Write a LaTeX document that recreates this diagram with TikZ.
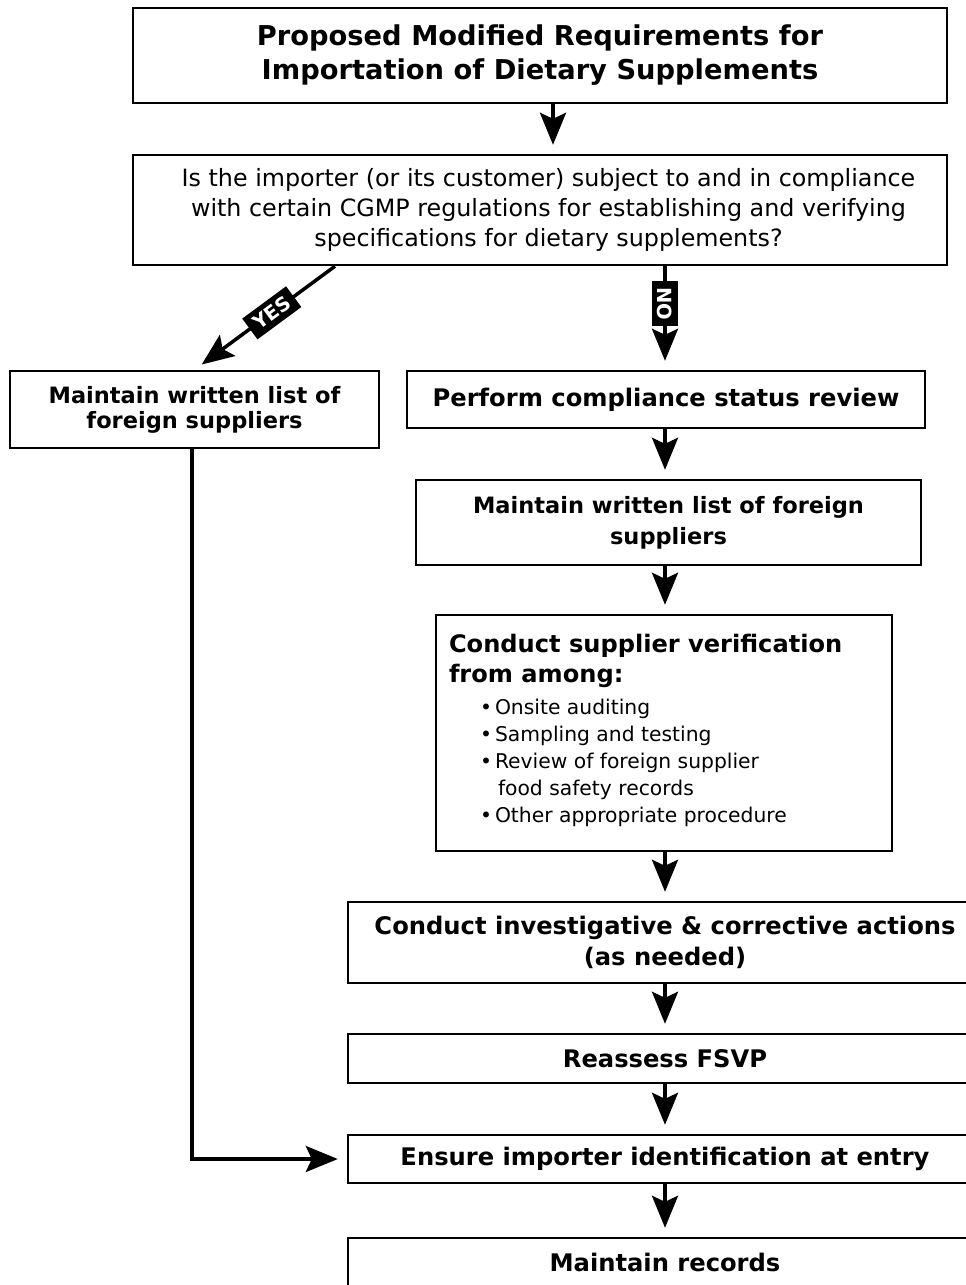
\documentclass[tikz,border=0pt]{standalone}
\usepackage{fontspec}
\setmainfont{DejaVu Sans}
\usetikzlibrary{arrows.meta}
\begin{document}
\begin{tikzpicture}[x=1pt,y=-1pt,
  box/.style={draw=black, line width=2.4pt, inner sep=0pt, align=center},
  bt/.style={font=\fontsize{24.2}{31}\selectfont\bfseries},
  arr/.style={line width=3.5pt, draw=black, -{Stealth[length=32pt,width=26pt,inset=6pt]}, shorten >=9pt},
  lab/.style={fill=black, text=white, font=\fontsize{19.5}{19.5}\selectfont\bfseries, inner xsep=6.5pt, inner ysep=5.5pt}]
\useasboundingbox[fill=white] (0,0) rectangle (966,1285);
\node[box, minimum width=814pt, minimum height=95pt, font=\fontsize{27.3}{34}\selectfont\bfseries] (title) at (540,55.5) {Proposed Modified Requirements for\\Importation of Dietary Supplements};
\node[box, minimum width=814pt, minimum height=110pt, font=\fontsize{23.8}{30}\selectfont] (q) at (540,210) {\begin{tabular}{@{\hspace{17pt}}c@{}}Is the importer (or its customer) subject to and in compliance\\with certain CGMP regulations for establishing and verifying\\specifications for dietary supplements?\end{tabular}};
\node[box, minimum width=369pt, minimum height=77pt, font=\fontsize{22.5}{25}\selectfont\bfseries] (left) at (194.5,409.5) {Maintain written list of\\foreign suppliers};
\node[box, bt, minimum width=518pt, minimum height=57pt] (perform) at (666,399.5) {Perform compliance status review};
\node[box, minimum width=505pt, minimum height=85pt, font=\fontsize{22.5}{31}\selectfont\bfseries] (list2) at (668.5,522.5) {Maintain written list of foreign\\suppliers};
\node[box, minimum width=456pt, minimum height=236pt] (verif) at (664,733) {\begin{minipage}{430pt}
{\fontsize{24.1}{30}\selectfont\bfseries Conduct supplier verification\\from among:\par}
\vspace{5pt}
{\fontsize{20.3}{27}\selectfont\leftskip=31pt
\makebox[15pt][l]{•}Onsite auditing\\
\makebox[15pt][l]{•}Sampling and testing\\
\makebox[15pt][l]{•}Review of foreign supplier\\
\hspace*{3pt}\makebox[15pt][l]{}food safety records\\
\makebox[15pt][l]{•}Other appropriate procedure\par}
\vspace{6pt}
\end{minipage}};
\node[box, bt, minimum width=634pt, minimum height=81pt] (invest) at (665,942.5) {Conduct investigative \& corrective actions\\(as needed)};
\node[box, bt, minimum width=634pt, minimum height=49pt] (reassess) at (665,1058.5) {Reassess FSVP};
\node[box, bt, minimum width=634pt, minimum height=48pt] (ensure) at (665,1159) {Ensure importer identification at entry};
\node[box, bt, minimum width=634pt, minimum height=48pt] (records) at (665,1262) {Maintain records};
\coordinate (t1) at ([xshift=13pt]title.south);
\coordinate (cx) at (665,0);
\coordinate (ys) at ([xshift=-205pt]q.south);
\draw[arr] (t1) -- (t1 |- q.north);
\draw[arr] (ys) -- node[lab, sloped, pos=0.45] {YES} (left.north);
\draw[arr] (cx |- q.south) -- node[lab, rotate=-90, pos=0.36] {NO} (cx |- perform.north);
\draw[arr] (cx |- perform.south) -- (cx |- list2.north);
\draw[arr] (cx |- list2.south) -- (cx |- verif.north);
\draw[arr] (cx |- verif.south) -- (cx |- invest.north);
\draw[arr] (cx |- invest.south) -- (cx |- reassess.north);
\draw[arr] (cx |- reassess.south) -- (cx |- ensure.north);
\draw[arr] (cx |- ensure.south) -- (cx |- records.north);
\draw[arr] ([xshift=-2.5pt]left.south) |- (ensure.west);
\end{tikzpicture}
\end{document}
